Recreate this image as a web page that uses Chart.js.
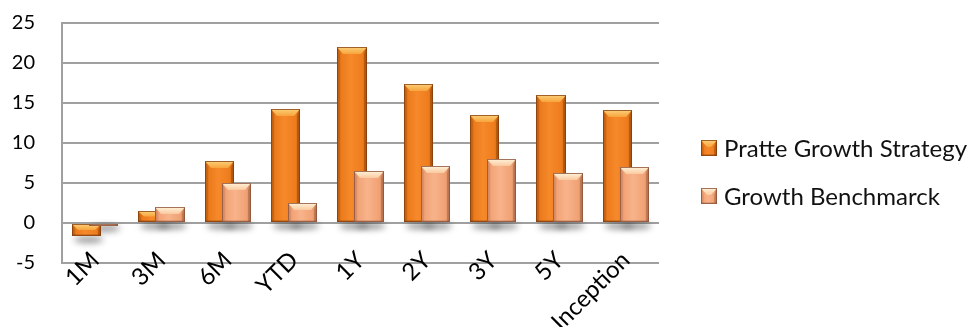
<!DOCTYPE html>
<html>
<head>
<meta charset="utf-8">
<script src="https://cdn.jsdelivr.net/npm/chart.js@4.4.1/dist/chart.umd.min.js"></script>
<style>
  html, body { margin: 0; padding: 0; background: #ffffff; }
  #wrap { width: 976px; height: 327px; position: relative; }
</style>
</head>
<body>
<div id="wrap"><canvas id="perf"></canvas></div>
<script>
// Performance periods and returns (%)
const categories = ['1M', '3M', '6M', 'YTD', '1Y', '2Y', '3Y', '5Y', 'Inception'];
const pratteGrowth = [-1.6, 1.5, 7.7, 14.2, 22.0, 17.4, 13.5, 16.0, 14.1];
const growthBenchmark = [-0.2, 2.0, 5.0, 2.5, 6.5, 7.1, 8.0, 6.2, 7.0];
const seriesNames = ['Pratte Growth Strategy', 'Growth Benchmarck'];
const yMin = -5;
const yMax = 25;
const yStep = 5;

const FONT = 'Lato, "Open Sans", sans-serif';

// Bevel palettes for the two series
const palettes = [
  {
    face: ['#c0600f', '#ec7b1c', '#f6892a', '#ee7c1d', '#bd5d12'],
    top: ['#fcd07a', '#f7a43c'],
    left: 'rgba(160,75,10,0.25)',
    right: 'rgba(120,55,5,0.35)',
    bottom: 'rgba(110,50,5,0.25)',
    edge: 'rgba(130,62,15,0.75)',
    swatch: '#e8761c'
  },
  {
    face: ['#d48a66', '#f2a477', '#f8b38b', '#f0a173', '#c27c5a'],
    top: ['#fff3da', '#fac99f'],
    left: 'rgba(180,110,80,0.2)',
    right: 'rgba(140,80,55,0.35)',
    bottom: 'rgba(130,70,45,0.2)',
    edge: 'rgba(140,85,60,0.8)',
    swatch: '#f0a070'
  }
];

function drawBevelBar(ctx, L, R, T, B, pal) {
  const w = R - L, h = B - T;
  if (w <= 0 || h <= 0) return;
  const bt = Math.min(7, h / 2);      // depth of the top bevel
  const bs = Math.min(3, w / 4);      // width of the side bevels
  const bi = Math.min(6, w / 2 - 1);  // inset of the top bevel's lower edge

  // front face with a horizontal sheen
  const g = ctx.createLinearGradient(L, 0, R, 0);
  g.addColorStop(0, pal.face[0]);
  g.addColorStop(0.15, pal.face[1]);
  g.addColorStop(0.45, pal.face[2]);
  g.addColorStop(0.85, pal.face[3]);
  g.addColorStop(1, pal.face[4]);
  ctx.fillStyle = g;
  ctx.fillRect(L, T, w, h);

  // left and right bevels
  ctx.fillStyle = pal.left;
  ctx.beginPath();
  ctx.moveTo(L, T); ctx.lineTo(L + bs, T + bt); ctx.lineTo(L + bs, B - 1); ctx.lineTo(L, B);
  ctx.closePath(); ctx.fill();
  ctx.fillStyle = pal.right;
  ctx.beginPath();
  ctx.moveTo(R, T); ctx.lineTo(R - bs, T + bt); ctx.lineTo(R - bs, B - 1); ctx.lineTo(R, B);
  ctx.closePath(); ctx.fill();

  // bottom edge
  ctx.fillStyle = pal.bottom;
  ctx.fillRect(L, B - Math.min(2, h / 3), w, Math.min(2, h / 3));

  // top bevel
  const gt = ctx.createLinearGradient(0, T, 0, T + bt);
  gt.addColorStop(0, pal.top[0]);
  gt.addColorStop(1, pal.top[1]);
  ctx.fillStyle = gt;
  ctx.beginPath();
  ctx.moveTo(L, T); ctx.lineTo(R, T); ctx.lineTo(R - bi, T + bt); ctx.lineTo(L + bi, T + bt);
  ctx.closePath(); ctx.fill();

  // outline
  ctx.strokeStyle = pal.edge;
  ctx.lineWidth = 1;
  ctx.strokeRect(L + 0.5, T + 0.5, w - 1, h - 1);
}

// Draws bars with a bevel and a soft drop shadow, using the bar elements laid out by Chart.js
const bevelBars = {
  id: 'bevelBars',
  beforeDatasetsDraw(chart) {
    const ctx = chart.ctx;
    const metas = chart.data.datasets.map((d, i) => chart.getDatasetMeta(i));
    ctx.save();

    // soft shadows below each bar end
    metas.forEach(meta => meta.data.forEach(el => {
      const p = el.getProps(['x', 'y', 'base', 'width'], true);
      const bottom = Math.max(p.y, p.base);
      ctx.save();
      ctx.filter = 'blur(3px)';
      ctx.fillStyle = 'rgba(0,0,0,0.38)';
      ctx.beginPath();
      ctx.ellipse(p.x + 2, bottom + 4, p.width / 2, 3.5, 0, 0, Math.PI * 2);
      ctx.fill();
      ctx.restore();
    }));

    metas.forEach((meta, di) => meta.data.forEach(el => {
      const p = el.getProps(['x', 'y', 'base', 'width'], true);
      const L = Math.round(p.x - p.width / 2);
      const R = Math.round(p.x + p.width / 2);
      const T = Math.round(Math.min(p.y, p.base));
      const B = Math.round(Math.max(p.y, p.base));
      drawBevelBar(ctx, L, R, T, Math.max(B, T + 2), palettes[di]);
    }));

    ctx.restore();
    return false;
  }
};

// Legend to the right of the plot
const sideLegend = {
  id: 'sideLegend',
  afterDraw(chart) {
    const ctx = chart.ctx;
    const area = chart.chartArea;
    const x0 = area.right + 42;
    const rows = [area.top + 125, area.top + 173];
    ctx.save();
    chart.data.datasets.forEach((ds, i) => {
      const cy = rows[i];
      drawBevelBar(ctx, x0, x0 + 16, cy - 8, cy + 8, palettes[i]);
      ctx.fillStyle = '#111111';
      ctx.font = '24px ' + FONT;
      ctx.textAlign = 'left';
      ctx.textBaseline = 'middle';
      ctx.fillText(ds.label, x0 + 23, cy + 1);
    });
    ctx.restore();
  }
};

new Chart(document.getElementById('perf'), {
  type: 'bar',
  data: {
    labels: categories,
    datasets: [
      { label: seriesNames[0], data: pratteGrowth, backgroundColor: palettes[0].swatch,
        categoryPercentage: 0.513, barPercentage: 1.73 },
      { label: seriesNames[1], data: growthBenchmark, backgroundColor: palettes[1].swatch,
        categoryPercentage: 0.513, barPercentage: 1.73 }
    ]
  },
  options: {
    responsive: true,
    maintainAspectRatio: false,
    animation: false,
    layout: { padding: { top: 23, right: 317, bottom: 0, left: 0 } },
    plugins: {
      legend: { display: false },
      tooltip: { enabled: false }
    },
    scales: {
      x: {
        grid: { display: false, drawTicks: false },
        border: { display: false },
        ticks: {
          color: '#000000',
          font: { family: FONT, size: 24 },
          minRotation: 45,
          maxRotation: 45,
          autoSkip: false,
          padding: -17
        },
        afterFit(scale) {
          scale.height = 64;
          // let the rotated labels run up over the bottom gridline
          scale._computeLabelArea = () => undefined;
        }
      },
      y: {
        min: yMin,
        max: yMax,
        ticks: {
          stepSize: yStep,
          color: '#000000',
          font: { family: FONT, size: 20 },
          padding: 27
        },
        grid: { color: '#a0a0a0', lineWidth: 2, drawTicks: false },
        border: { display: true, color: '#a0a0a0', width: 2 },
        afterFit(scale) {
          scale.width = 62;
          scale.paddingTop = 0;
          scale.paddingBottom = 0;
        }
      }
    }
  },
  plugins: [bevelBars, sideLegend]
});
</script>
</body>
</html>
